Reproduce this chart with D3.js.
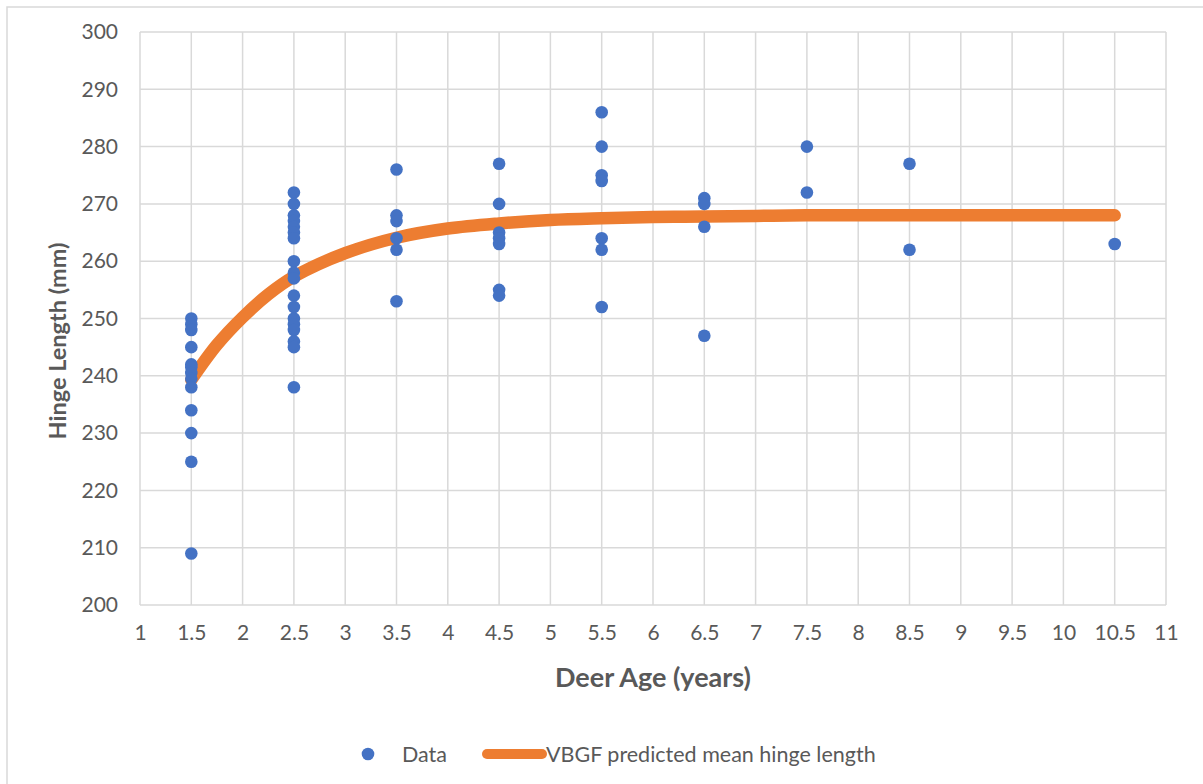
<!DOCTYPE html>
<html>
<head>
<meta charset="utf-8">
<script src="https://cdn.jsdelivr.net/npm/d3@7/dist/d3.min.js"></script>
<style>
  html, body { margin: 0; padding: 0; background: #fff; }
  svg { display: block; }
  text { font-family: Lato, "Open Sans", sans-serif; fill: #595959; }
</style>
</head>
<body>
<svg id="chart" width="1203" height="784"></svg>
<script>
// Observed hinge lengths (mm) per deer age class (years)
const dataAge15 = [250, 249, 248, 245, 242, 241.5, 240.5, 239.5, 238, 234, 230, 225, 209];
const dataAge25 = [272, 270, 268, 267, 266, 265, 264, 260, 258, 257, 254, 252, 250, 249, 248, 246, 245, 238];
const dataAge35 = [276, 268, 267, 264, 262, 253];
const dataAge45 = [277, 270, 265, 264, 263, 255, 254];
const dataAge55 = [286, 280, 275, 274, 264, 262, 252];
const dataAge65 = [271, 270, 266, 247];
const dataAge75 = [280, 272];
const dataAge85 = [277, 262];
const dataAge105 = [263];
const ageClasses = [1.5, 2.5, 3.5, 4.5, 5.5, 6.5, 7.5, 8.5, 10.5];
const observed = [dataAge15, dataAge25, dataAge35, dataAge45, dataAge55, dataAge65, dataAge75, dataAge85, dataAge105];

// VBGF predicted mean hinge length
const predAges = [1.5, 1.75, 2, 2.25, 2.5, 3, 3.5, 4, 4.5, 5, 5.5, 6, 6.5, 7, 7.5, 8, 8.5, 9, 9.5, 10, 10.5];
const predLength = [239.3, 245.4, 250.2, 254.2, 257.3, 261.4, 264.1, 265.7, 266.6, 267.2, 267.5, 267.7, 267.8, 267.9, 268, 268, 268, 268, 268, 268, 268];

// Axis ticks
const xTicks = [1, 1.5, 2, 2.5, 3, 3.5, 4, 4.5, 5, 5.5, 6, 6.5, 7, 7.5, 8, 8.5, 9, 9.5, 10, 10.5, 11];
const yTicks = [200, 210, 220, 230, 240, 250, 260, 270, 280, 290, 300];

const svg = d3.select("#chart");
const plot = { left: 140, right: 1166, top: 32, bottom: 605 };

const x = d3.scaleLinear().domain([1, 11]).range([plot.left, plot.right]);
const y = d3.scaleLinear().domain([200, 300]).range([plot.bottom, plot.top]);

const blue = "#4472C4", orange = "#ED7D31", grid = "#d9d9d9";

// chart area frame
svg.append("rect")
  .attr("x", 7).attr("y", 7).attr("width", 1300).attr("height", 900)
  .attr("fill", "#fff").attr("stroke", grid).attr("stroke-width", 1.5);

// gridlines
svg.append("g").selectAll("line").data(yTicks).join("line")
  .attr("x1", plot.left).attr("x2", plot.right)
  .attr("y1", d => y(d)).attr("y2", d => y(d))
  .attr("stroke", grid).attr("stroke-width", 1.5);
svg.append("g").selectAll("line").data(xTicks).join("line")
  .attr("x1", d => x(d)).attr("x2", d => x(d))
  .attr("y1", plot.top).attr("y2", plot.bottom)
  .attr("stroke", grid).attr("stroke-width", 1.5);

// axes (labels only; lines are the gridlines)
const yAxis = svg.append("g")
  .attr("transform", `translate(${plot.left},0)`)
  .call(d3.axisLeft(y).tickValues(yTicks).tickSize(0).tickPadding(22).tickFormat(d3.format("d")));
yAxis.select(".domain").remove();
yAxis.selectAll("text").style("font-size", "21px").style("font-family", "Lato, sans-serif").attr("fill", "#595959");

const xAxis = svg.append("g")
  .attr("transform", `translate(0,${plot.bottom})`)
  .call(d3.axisBottom(x).tickValues(xTicks).tickSize(0).tickPadding(20).tickFormat(d => String(d)));
xAxis.select(".domain").remove();
xAxis.selectAll("text").style("font-size", "21px").style("font-family", "Lato, sans-serif").attr("fill", "#595959");

// predicted curve
const line = d3.line().x(d => x(d[0])).y(d => y(d[1])).curve(d3.curveCatmullRom);
svg.append("path")
  .datum(predAges.map((a, i) => [a, predLength[i]]))
  .attr("d", line)
  .attr("fill", "none").attr("stroke", orange).attr("stroke-width", 12.5)
  .attr("stroke-linecap", "round").attr("stroke-linejoin", "round");

// observed points
const pts = [];
ageClasses.forEach((a, i) => observed[i].forEach(v => pts.push([a, v])));
svg.append("g").selectAll("circle").data(pts).join("circle")
  .attr("cx", d => x(d[0])).attr("cy", d => y(d[1])).attr("r", 6.3)
  .attr("fill", blue);

// axis titles
svg.append("text")
  .attr("x", (plot.left + plot.right) / 2).attr("y", 687)
  .attr("text-anchor", "middle")
  .style("font-size", "27px").style("font-weight", "bold")
  .text("Deer Age (years)");
svg.append("text")
  .attr("transform", "translate(66,341) rotate(-90)")
  .attr("text-anchor", "middle")
  .style("font-size", "23.5px").style("font-weight", "bold")
  .text("Hinge Length (mm)");

// legend
const legend = svg.append("g");
legend.append("circle").attr("cx", 368).attr("cy", 754).attr("r", 6.3).attr("fill", blue);
legend.append("text").attr("x", 402).attr("y", 762).style("font-size", "21.5px").text("Data");
legend.append("line").attr("x1", 487).attr("x2", 542).attr("y1", 754).attr("y2", 754)
  .attr("stroke", orange).attr("stroke-width", 10).attr("stroke-linecap", "round");
legend.append("text").attr("x", 546).attr("y", 762).style("font-size", "21.5px").text("VBGF predicted mean hinge length");
</script>
</body>
</html>
